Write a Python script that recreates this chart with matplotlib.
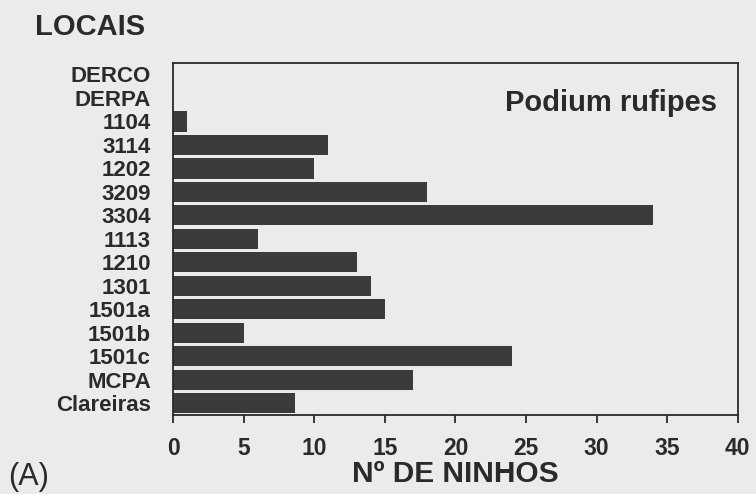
import numpy as np
import matplotlib.pyplot as plt

# Sites (top to bottom) and number of nests
locais = ['DERCO', 'DERPA', '1104', '3114', '1202', '3209', '3304', '1113',
          '1210', '1301', '1501a', '1501b', '1501c', 'MCPA', 'Clareiras']
ninhos = [0, 0, 1, 11, 10, 18, 34, 6, 13, 14, 15, 5, 24, 17, 8.6]
x_ticks = [0, 5, 10, 15, 20, 25, 30, 35, 40]

plt.rcParams['font.family'] = ['Liberation Sans', 'DejaVu Sans']
plt.rcParams['font.weight'] = 'bold'

paper = '#ebebe9'
ink = '#2a2a2a'
fig = plt.figure(figsize=(7.56, 4.94), dpi=100, facecolor=paper)
ax = fig.add_axes([0.229, 0.160, 0.747, 0.713], facecolor=paper)

y = np.arange(len(locais))
ax.barh(y, ninhos, height=0.86, color='#3b3b3b', edgecolor='none')

ax.set_ylim(len(locais) - 0.5, -0.5)
ax.set_xlim(0, 40)
ax.set_yticks(y)
ax.set_yticklabels(locais, fontsize=16, fontweight='bold', color=ink)
ax.tick_params(axis='y', length=0, pad=16)
ax.set_xticks(x_ticks)
ax.set_xticklabels([str(t) for t in x_ticks], fontsize=16.5, fontweight='bold', color=ink)
ax.tick_params(axis='x', length=6, width=1.3, pad=10, color=ink)

for s in ax.spines.values():
    s.set_linewidth(1.3)
    s.set_color(ink)

ax.set_xlabel('Nº DE NINHOS', fontsize=21.5, fontweight='bold', color=ink, labelpad=0)
ax.text(0.963, 0.925, 'Podium rufipes', transform=ax.transAxes, ha='right', va='top',
        fontsize=21, fontweight='bold', color=ink)

fig.text(35 / 756, 1 - 27 / 494, 'LOCAIS', fontsize=21, fontweight='bold',
         color=ink, va='center', ha='left')
fig.text(8 / 756, 2 / 494, '(A)', fontsize=22, fontweight='normal',
         color=ink, va='bottom', ha='left')

fig.savefig('out.png', dpi=100, facecolor=paper)
